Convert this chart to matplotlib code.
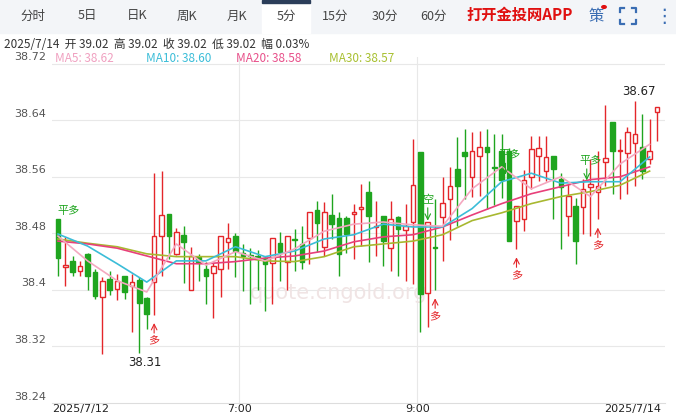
import numpy as np
import matplotlib
matplotlib.use('Agg')
from matplotlib import pyplot as plt
from matplotlib.patches import Rectangle
from matplotlib.lines import Line2D
import matplotlib.transforms as mtrans

plt.rcParams['font.family'] = ['Noto Sans CJK SC', 'DejaVu Sans']

# Velas de 5 minutos (open, high, low, close)
opens = [38.500, 38.433, 38.441, 38.427, 38.451, 38.425, 38.390, 38.416, 38.401, 38.420,
         38.405, 38.414, 38.388, 38.411, 38.476, 38.507, 38.451, 38.478, 38.400, 38.447,
         38.430, 38.424, 38.430, 38.468, 38.476, 38.452, 38.448, 38.448, 38.445, 38.438,
         38.466, 38.440, 38.470, 38.465, 38.474, 38.513, 38.461, 38.506, 38.502, 38.502,
         38.508, 38.515, 38.539, 38.489, 38.505, 38.459, 38.503, 38.485, 38.496, 38.595,
         38.396, 38.459, 38.503, 38.529, 38.571, 38.595, 38.560, 38.590, 38.602, 38.573,
         38.597, 38.597, 38.498, 38.500, 38.560, 38.590, 38.568, 38.589, 38.557, 38.505,
         38.519, 38.517, 38.545, 38.539, 38.581, 38.638, 38.597, 38.594, 38.608, 38.602,
         38.585, 38.652]
highs = [38.500, 38.475, 38.448, 38.441, 38.452, 38.430, 38.418, 38.427, 38.423, 38.420,
         38.423, 38.418, 38.390, 38.565, 38.568, 38.507, 38.488, 38.490, 38.461, 38.451,
         38.440, 38.440, 38.476, 38.495, 38.481, 38.465, 38.459, 38.456, 38.448, 38.474,
         38.482, 38.476, 38.486, 38.490, 38.510, 38.526, 38.524, 38.536, 38.510, 38.504,
         38.521, 38.550, 38.554, 38.526, 38.505, 38.526, 38.505, 38.522, 38.614, 38.595,
         38.496, 38.529, 38.560, 38.574, 38.616, 38.628, 38.623, 38.625, 38.628, 38.620,
         38.620, 38.600, 38.519, 38.570, 38.618, 38.618, 38.618, 38.590, 38.566, 38.550,
         38.530, 38.557, 38.585, 38.597, 38.662, 38.638, 38.614, 38.630, 38.667, 38.649,
         38.642, 38.659]
lows = [38.420, 38.405, 38.420, 38.420, 38.400, 38.387, 38.310, 38.393, 38.386, 38.387,
        38.340, 38.311, 38.345, 38.365, 38.420, 38.444, 38.450, 38.410, 38.400, 38.413,
        38.380, 38.360, 38.390, 38.430, 38.418, 38.398, 38.380, 38.400, 38.370, 38.380,
        38.413, 38.400, 38.427, 38.430, 38.437, 38.454, 38.448, 38.472, 38.420, 38.452,
        38.444, 38.462, 38.440, 38.448, 38.434, 38.427, 38.420, 38.413, 38.408, 38.340,
        38.348, 38.400, 38.441, 38.470, 38.490, 38.529, 38.532, 38.533, 38.515, 38.520,
        38.530, 38.469, 38.458, 38.483, 38.543, 38.554, 38.554, 38.500, 38.458, 38.476,
        38.437, 38.479, 38.476, 38.500, 38.547, 38.536, 38.529, 38.536, 38.547, 38.557,
        38.578, 38.611]
closes = [38.445, 38.433, 38.425, 38.434, 38.420, 38.392, 38.413, 38.400, 38.413, 38.397,
          38.411, 38.382, 38.366, 38.476, 38.506, 38.476, 38.482, 38.468, 38.448, 38.440,
          38.420, 38.434, 38.476, 38.474, 38.455, 38.448, 38.448, 38.444, 38.437, 38.474,
          38.454, 38.476, 38.470, 38.440, 38.510, 38.495, 38.510, 38.493, 38.451, 38.479,
          38.510, 38.517, 38.505, 38.489, 38.469, 38.500, 38.486, 38.490, 38.549, 38.394,
          38.496, 38.459, 38.523, 38.547, 38.547, 38.589, 38.597, 38.602, 38.595, 38.573,
          38.556, 38.469, 38.519, 38.556, 38.599, 38.600, 38.588, 38.571, 38.546, 38.533,
          38.469, 38.543, 38.550, 38.547, 38.587, 38.597, 38.597, 38.623, 38.621, 38.568,
          38.597, 38.659]
# colores de los doji (0 = verde, 1 = rojo)
doji_up = {1: 1, 32: 0, 43: 1, 51: 0, 59: 0, 76: 1}

# Medias moviles leidas cada 4 velas
ma_idx = list(range(0, 81, 4))
ma5 = [38.476, 38.441, 38.413, 38.397, 38.465, 38.435, 38.454, 38.441, 38.458, 38.483, 38.493,
       38.496, 38.492, 38.490, 38.543, 38.574, 38.543, 38.560, 38.532, 38.578, 38.606]
ma10 = [38.479, 38.462, 38.437, 38.411, 38.441, 38.441, 38.461, 38.447, 38.455, 38.472, 38.478,
        38.493, 38.489, 38.489, 38.515, 38.553, 38.565, 38.551, 38.553, 38.553, 38.588]
ma20 = [38.469, 38.465, 38.459, 38.448, 38.437, 38.437, 38.440, 38.445, 38.448, 38.455, 38.468,
        38.475, 38.478, 38.489, 38.506, 38.522, 38.536, 38.546, 38.556, 38.560, 38.574]
ma30 = [38.472, 38.466, 38.461, 38.451, 38.447, 38.447, 38.447, 38.441, 38.440, 38.447, 38.461,
        38.465, 38.469, 38.478, 38.498, 38.509, 38.522, 38.532, 38.539, 38.548, 38.568]

y_ticks = [38.24, 38.32, 38.4, 38.48, 38.56, 38.64, 38.72]
y_labels = ['38.24', '38.32', '38.4', '38.48', '38.56', '38.64', '38.72']
tabs = ['分时', '5日', '日K', '周K', '月K', '5分', '15分', '30分', '60分']
tab_x = [33, 87, 137, 187, 237, 286, 335, 385, 434]

# senales: (indice, texto, tipo, nivel)
signals = [(0, '平多', 'pd', 38.505), (13, '多', 'up', None), (50, '空', 'dn', 38.52),
           (51, '多', 'up', None), (61, '平多', 'pd', 38.583), (62, '多', 'up', None),
           (72, '平多', 'pd', 38.575), (73, '多', 'up', None)]

RED = '#e4262a'
GREEN = '#1fa51f'
W, H = 676, 418
fig = plt.figure(figsize=(W / 100, H / 100), dpi=100)
fig.patch.set_facecolor('white')

# barra de pestanas
fig.patches.append(Rectangle((0, 1 - 33 / H), 1, 33 / H, transform=fig.transFigure,
                             color='#f3f5f8', zorder=0))
fig.patches.append(Rectangle((262 / W, 1 - 33 / H), 48 / W, 33 / H, transform=fig.transFigure,
                             color='white', zorder=1))
fig.patches.append(Rectangle((262 / W, 1 - 3 / H), 48 / W, 3 / H, transform=fig.transFigure,
                             color='#2c3e5a', zorder=2))
for t, x in zip(tabs, tab_x):
    fig.text(x / W, 1 - 16 / H, t, fontsize=9, color='#444444', ha='center', va='center', zorder=3)
fig.text(520 / W, 1 - 15 / H, '打开金投网APP', fontsize=11, color='#e01010', weight='bold',
         ha='center', va='center')
fig.text(596 / W, 1 - 16 / H, '策', fontsize=11, color='#3a6db3', ha='center', va='center')
fig.patches.append(plt.Circle((604 / W, 1 - 7 / H), 2.2 / W, transform=fig.transFigure,
                              color='#e01010'))
# icono de pantalla completa
cx, cy, r, k = 628, 16, 8, 4
for sx in (-1, 1):
    for sy in (-1, 1):
        xs = [cx + sx * r, cx + sx * r, cx + sx * (r - k)]
        ys = [cy + sy * (r - k), cy + sy * r, cy + sy * r]
        fig.lines.append(Line2D([v / W for v in xs], [1 - v / H for v in ys],
                                transform=fig.transFigure, color='#3a6db3', lw=1.6))
fig.text(664 / W, 1 - 16 / H, '⋮', fontsize=14, color='#3a6db3', ha='center', va='center',
         family=['DejaVu Sans'])

fig.text(4 / W, 1 - 44 / H, '2025/7/14  开 39.02  高 39.02  收 39.02  低 39.02  幅 0.03%',
         fontsize=8.5, color='#333333', va='center')
for txt, x, c in [('MA5: 38.62', 55, '#f0a0c0'), ('MA10: 38.60', 146, '#3bbdd8'),
                  ('MA20: 38.58', 236, '#e8508a'), ('MA30: 38.57', 329, '#a8c030')]:
    fig.text(x / W, 1 - 58 / H, txt, fontsize=8.5, color=c, va='center')

ax = fig.add_axes([52 / W, 15 / H, (665 - 52) / W, (404 - 58) / H])
n = len(opens)
step = 599 / 81
ax.set_xlim(-6 / step, 81 + 8 / step)
ax.set_ylim(38.24, 38.24 + 346 / 707)
for s in ax.spines.values():
    s.set_visible(False)
ax.spines['bottom'].set_visible(True)
ax.spines['bottom'].set_color('#dddddd')
ax.set_yticks([])
ax.tick_params(axis='x', length=0, pad=1)
for v in y_ticks[1:]:
    ax.axhline(v, color='#e8e8e8', lw=0.8, zorder=0)
blend = mtrans.blended_transform_factory(fig.transFigure, ax.transData)
for v, lab in zip(y_ticks, y_labels):
    ax.text(46 / W, v + 0.002, lab, transform=blend, ha='right', va='bottom',
            fontsize=8, color='#555555', family=['DejaVu Sans'])
for xv in [24.5, 48.6]:
    ax.axvline(xv, color='#e8e8e8', lw=0.8, zorder=0)
ax.set_xticks([3, 24.5, 48.6, 81.5])
ax.set_xticklabels(['2025/7/12', '7:00', '9:00', '2025/7/14'], fontsize=8,
                   color='#222222', family=['DejaVu Sans'])
ax.get_xticklabels()[-1].set_ha('right')

ax.text(38, 38.395, 'quote.cngold.org', fontsize=15, color='#f0e4e4', ha='center',
        va='center', zorder=0, family=['DejaVu Sans'])

bw = 0.62
for i in range(n):
    o, h, l, c = opens[i], highs[i], lows[i], closes[i]
    up = c > o if i not in doji_up else doji_up[i] == 1
    col = RED if up else GREEN
    lo_b, hi_b = min(o, c), max(o, c)
    if hi_b - lo_b < 0.0015:
        hi_b = lo_b + 0.0015
    ax.vlines(i, l, lo_b, color=col, lw=1, zorder=3)
    ax.vlines(i, hi_b, h, color=col, lw=1, zorder=3)
    ax.add_patch(Rectangle((i - bw / 2, lo_b), bw, hi_b - lo_b, facecolor='white' if up else col,
                           edgecolor=col, lw=1, zorder=4))

for ma, c in [(ma30, '#a8b830'), (ma20, '#e8407a'), (ma10, '#3bbdd8'), (ma5, '#f4a8c0')]:
    ax.plot(ma_idx, ma, color=c, lw=1.2, zorder=5)

for i, txt, kind, lvl in signals:
    if kind == 'up':
        y0 = lows[i] - 0.008
        ax.annotate('', xy=(i, y0), xytext=(i, y0 - 0.022),
                    arrowprops=dict(arrowstyle='->', color=RED, lw=0.8), zorder=6)
        ax.text(i, y0 - 0.022, txt, color=RED, fontsize=8, ha='center', va='top', zorder=6)
    elif kind == 'dn':
        ax.text(i, lvl, txt, color=GREEN, fontsize=8, ha='center', va='bottom', zorder=6)
        ax.annotate('', xy=(i, lvl - 0.026), xytext=(i, lvl),
                    arrowprops=dict(arrowstyle='->', color=GREEN, lw=0.8), zorder=6)
    else:
        xt = i + 1.5 if i == 0 else i
        ax.text(xt, lvl, txt, color=GREEN, fontsize=8, ha='center', va='bottom', zorder=6)
        if i != 0:
            ax.annotate('', xy=(i - 0.5, lvl - 0.024), xytext=(i - 0.5, lvl),
                        arrowprops=dict(arrowstyle='->', color=GREEN, lw=0.8), zorder=6)

ax.text(78.5, 38.667 + 0.004, '38.67', fontsize=8.5, color='#222222', ha='center', va='bottom',
        family=['DejaVu Sans'])
ax.text(11.8, 38.311 - 0.004, '38.31', fontsize=8.5, color='#222222', ha='center', va='top',
        family=['DejaVu Sans'])

plt.savefig('out.png', dpi=100)
